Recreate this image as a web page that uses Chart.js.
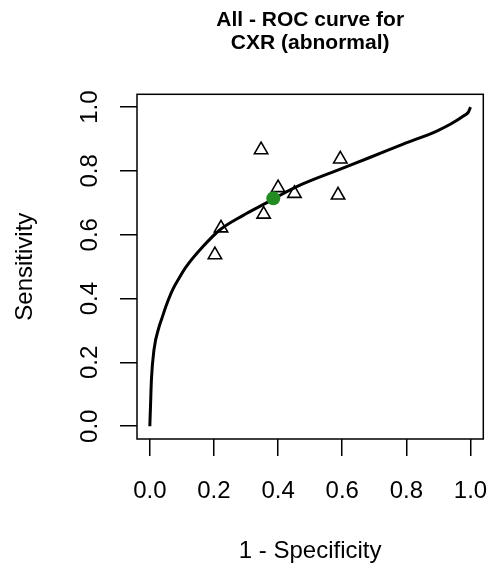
<!DOCTYPE html>
<html>
<head>
<meta charset="utf-8">
<script src="https://cdn.jsdelivr.net/npm/chart.js@4.4.0/dist/chart.umd.min.js"></script>
<style>
    html, body { margin: 0; padding: 0; background: #fff; }
</style>
</head>
<body>
<canvas id="myChart" width="495" height="572"></canvas>
<script>
//-----------------datos----------------------------------------------
const tituloLineas = ['All - ROC curve for', 'CXR (abnormal)']
const ticksEje = [0, 0.2, 0.4, 0.6, 0.8, 1.0]

//curva ROC resumen (puntos leidos sobre la linea)
const curvaX = [0, 0.002, 0.005, 0.013, 0.029, 0.038, 0.050, 0.071, 0.092, 0.113, 0.165, 0.217, 0.290, 0.368, 0.405, 0.477, 0.582, 0.686, 0.790, 0.895, 0.937, 0.978, 0.994, 1.0]
const curvaY = [0, 0.060, 0.146, 0.240, 0.312, 0.339, 0.375, 0.427, 0.465, 0.499, 0.562, 0.614, 0.660, 0.702, 0.723, 0.759, 0.801, 0.842, 0.884, 0.925, 0.946, 0.972, 0.985, 1.0]

//estudios individuales (triangulos)
const estudiosX = [0.347, 0.594, 0.400, 0.451, 0.587, 0.355, 0.222, 0.203]
const estudiosY = [0.866, 0.837, 0.747, 0.729, 0.724, 0.664, 0.621, 0.537]

//punto resumen (verde)
const resumenX = [0.385]
const resumenY = [0.714]
//----------------//----------------//----------------//----------------

const fuente = '"Liberation Sans", Arial, sans-serif'

//se arma cada serie como pares x,y
const puntosCurva = curvaX.map(function (x, i) {
    return { x: x, y: curvaY[i] };
});
const puntosEstudios = estudiosX.map(function (x, i) {
    return { x: x, y: estudiosY[i] };
});
const puntosResumen = resumenX.map(function (x, i) {
    return { x: x, y: resumenY[i] };
});

//plugin para dibujar la caja del area y el titulo como en R
const marcoR = {
    id: 'marcoR',
    beforeDatasetsDraw(chart) {
        const ctx = chart.ctx
        const a = chart.chartArea
        ctx.save()
        ctx.strokeStyle = '#000'
        ctx.lineWidth = 1.5
        ctx.strokeRect(a.left, a.top, a.right - a.left, a.bottom - a.top)
        ctx.fillStyle = '#000'
        ctx.font = 'bold 21px ' + fuente
        ctx.textAlign = 'center'
        ctx.textBaseline = 'alphabetic'
        const cx = (a.left + a.right) / 2
        ctx.fillText(tituloLineas[0], cx, 26)
        ctx.fillText(tituloLineas[1], cx, 49.3)
        ctx.restore()
    }
}

const ctx = document.getElementById('myChart').getContext('2d')
let chart = new Chart(ctx, {
    type: 'scatter',
    data: {
        datasets: [{
            label: 'SROC',
            data: puntosCurva,
            showLine: true,
            borderColor: '#000',
            borderWidth: 3,
            pointRadius: 0,
            cubicInterpolationMode: 'monotone',
            order: 3
        },
        {
            label: 'Estudios',
            data: puntosEstudios,
            pointStyle: 'triangle',
            pointRadius: 7.7,
            borderColor: '#000',
            borderWidth: 1.6,
            backgroundColor: 'rgba(0,0,0,0)',
            order: 2
        },
        {
            label: 'Resumen',
            data: puntosResumen,
            pointStyle: 'circle',
            pointRadius: 7,
            borderWidth: 0,
            backgroundColor: '#228B22',
            borderColor: '#228B22',
            order: 1
        }]
    },
    options: {
        responsive: false,
        animation: false,
        layout: {
            padding: { top: 94.3, right: 11.7, bottom: 0, left: 0 }
        },
        plugins: {
            legend: { display: false },
            tooltip: { enabled: false }
        },
        scales: {
            x: {
                type: 'linear',
                position: 'bottom',
                min: -0.04,
                max: 1.04,
                //se fija el alto y se quita el relleno extra de las etiquetas
                afterFit: function (s) {
                    s.height = 133
                    s.paddingLeft = 0
                    s.paddingRight = 0
                },
                afterBuildTicks: function (s) {
                    s.ticks = ticksEje.map(function (v) { return { value: v } })
                },
                border: { display: false },
                grid: { drawOnChartArea: false, drawTicks: true, tickLength: 17, color: '#000', lineWidth: 1.5 },
                ticks: {
                    padding: 21,
                    color: '#000',
                    maxRotation: 0,
                    autoSkip: false,
                    font: { family: fuente, size: 24 },
                    callback: function (v) { return v.toFixed(1) }
                },
                title: {
                    display: true,
                    text: '1 - Specificity',
                    color: '#000',
                    font: { family: fuente, size: 24 },
                    padding: { top: 0, bottom: 6.6 }
                }
            },
            y: {
                type: 'linear',
                position: 'left',
                min: -0.04,
                max: 1.04,
                afterFit: function (s) {
                    s.width = 137
                    s.paddingTop = 0
                    s.paddingBottom = 0
                },
                afterBuildTicks: function (s) {
                    s.ticks = ticksEje.map(function (v) { return { value: v } })
                },
                border: { display: false },
                grid: { drawOnChartArea: false, drawTicks: true, tickLength: 17, color: '#000', lineWidth: 1.5 },
                ticks: {
                    padding: 12.5,
                    color: '#000',
                    minRotation: 90,
                    maxRotation: 90,
                    crossAlign: 'center',
                    autoSkip: false,
                    font: { family: fuente, size: 24 },
                    callback: function (v) { return v.toFixed(1) }
                },
                title: {
                    display: true,
                    text: 'Sensitivity',
                    color: '#000',
                    font: { family: fuente, size: 24 },
                    padding: { top: 10.6, bottom: 0 }
                }
            }
        }
    },
    plugins: [marcoR]
});
</script>
</body>
</html>
